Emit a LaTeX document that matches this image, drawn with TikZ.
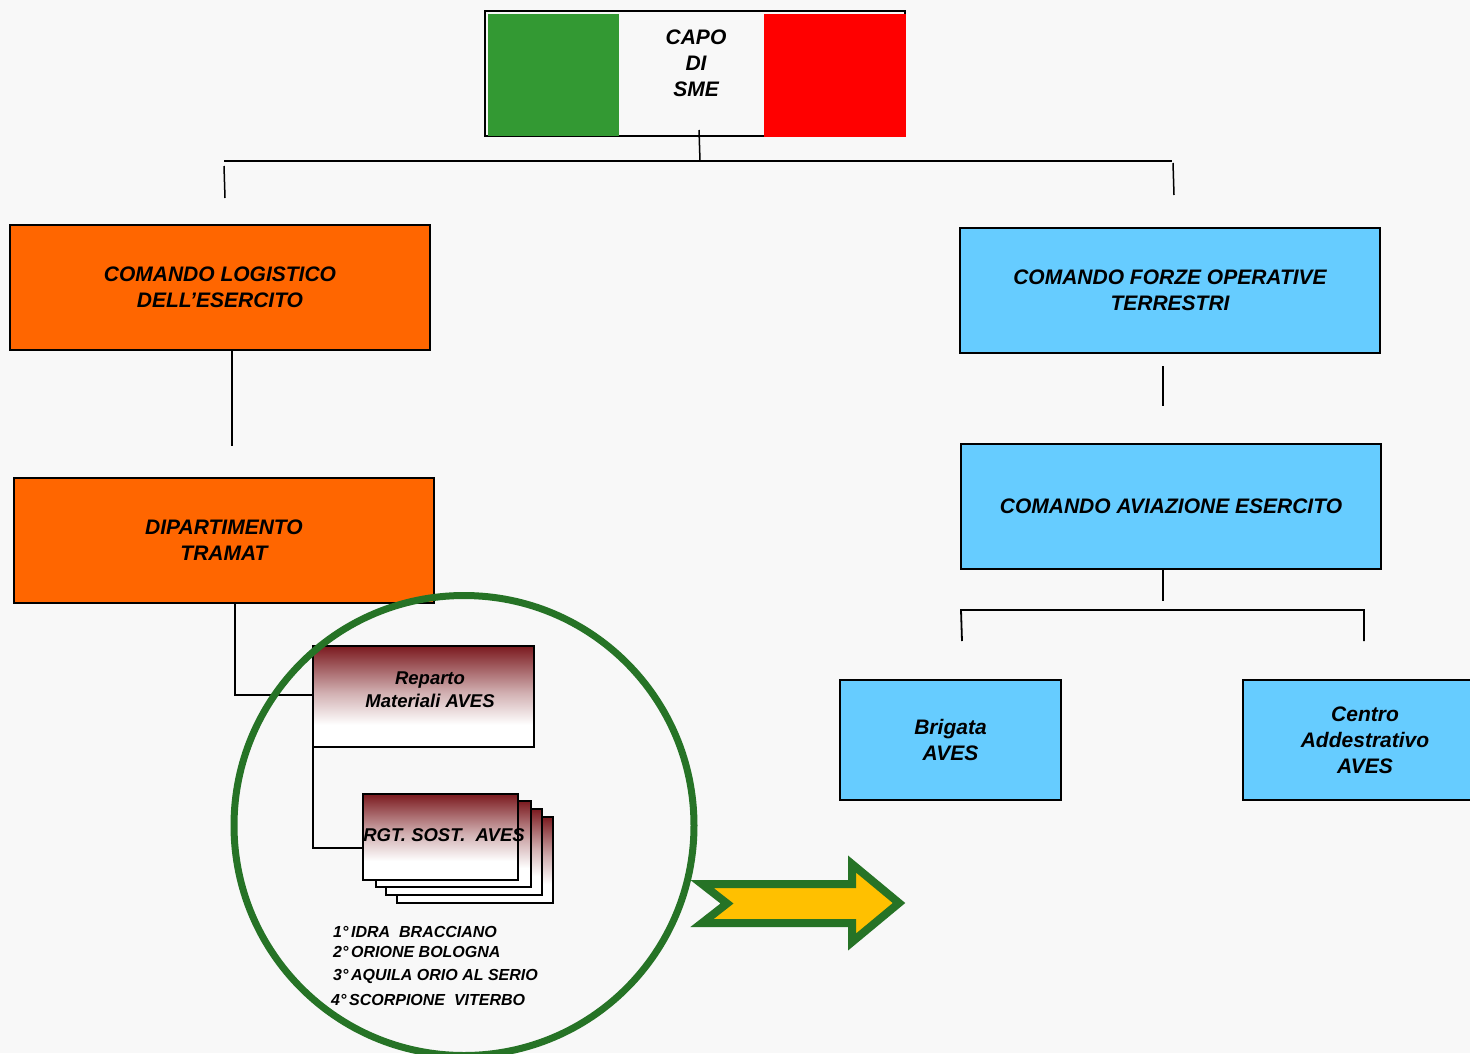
\documentclass[tikz,border=0pt]{standalone}
\usepackage{fontspec}
\setmainfont{Liberation Sans}
\definecolor{bg}{HTML}{F8F8F8}
\definecolor{orng}{HTML}{FF6600}
\definecolor{skyb}{HTML}{66CCFF}
\definecolor{flaggreen}{HTML}{339933}
\definecolor{flagred}{HTML}{FF0000}
\definecolor{ringgreen}{HTML}{267326}
\definecolor{arrowfill}{HTML}{FFC000}
\definecolor{drk}{HTML}{7B1A1F}
\pgfdeclareverticalshading{repshade}{100bp}{color(0bp)=(white); color(25bp)=(white); color(36bp)=(white); color(52bp)=(drk!35!white); color(75bp)=(drk); color(100bp)=(drk)}
\begin{document}
\begin{tikzpicture}[x=1pt,y=-1pt,
  box/.style={draw=black, line width=1.5pt, inner sep=0pt, outer sep=0pt, align=center,
    font=\fontsize{21}{26}\selectfont\bfseries\itshape},
  obox/.style={box, fill=orng, minimum width=420pt, minimum height=125pt},
  bbox/.style={box, fill=skyb, minimum width=420pt, minimum height=125pt},
  gbox/.style={draw=black, line width=1.5pt, inner sep=0pt, outer sep=0pt, shading=repshade},
  conn/.style={draw=black, line width=1.8pt},
  listtxt/.style={anchor=west, inner sep=0pt, font=\fontsize{16}{19}\selectfont\bfseries\itshape},
  smalltxt/.style={inner sep=0pt, align=center, font=\fontsize{18.5}{23}\selectfont\bfseries\itshape}
]
\useasboundingbox (0,0) rectangle (1470,1053);
\fill[bg] (0,0) rectangle (1470,1053);

% flag
\node[draw=black, line width=2pt, fill=bg, minimum width=420pt, minimum height=125pt, inner sep=0pt, outer sep=0pt] (capo) at (695,73.5) {};
\fill[flaggreen] (488,14) rectangle (619,136);
\fill[flagred] (764,14) rectangle (906,136.5);
\node[box, draw=none] (capotext) at (696,63) {\fontsize{21}{25}\selectfont CAPO\\DI\\SME};

% boxes
\node[obox] (clog) at (220,287.5) {COMANDO LOGISTICO\\DELL’ESERCITO};
\node[obox] (tramat) at (224,540.5) {DIPARTIMENTO\\TRAMAT};
\node[bbox] (cfot) at (1170,290.5) {COMANDO FORZE OPERATIVE\\TERRESTRI};
\node[bbox] (cae) at (1171,506.5) {COMANDO AVIAZIONE ESERCITO};
\node[bbox, minimum width=221pt, minimum height=120pt] (brig) at (950.5,740) {Brigata\\AVES};
\node[bbox, minimum width=244pt, minimum height=120pt] (centro) at (1365,740) {Centro\\Addestrativo\\AVES};

% gradient boxes
\node[gbox, minimum width=221pt, minimum height=101pt] (rep) at (423.5,696.5) {};
\node[smalltxt] (reptext) at (430,690) {Reparto\\Materiali AVES};
\node[gbox, minimum width=156pt, minimum height=86pt] (rgt4) at (475,860) {};
\node[gbox, minimum width=156pt, minimum height=86pt] (rgt3) at (464,852) {};
\node[gbox, minimum width=155pt, minimum height=86pt] (rgt2) at (453.5,844) {};
\node[gbox, minimum width=155pt, minimum height=86pt] (rgt1) at (440.5,837) {};
\node[smalltxt] (rgttext) at (444,835) {RGT. SOST.\ \ AVES};

% list
\node[listtxt] (l1) at (333,932) {1°\,IDRA\ \ BRACCIANO};
\node[listtxt] (l2) at (333,952) {2°\,ORIONE BOLOGNA};
\node[listtxt] (l3) at (333,976) {3°\,AQUILA ORIO AL SERIO};
\node[listtxt] (l4) at (331,1000) {4°\,SCORPIONE\ \ VITERBO};

% connector coordinates
\coordinate (c1) at (699,130);
\coordinate (c2) at (700,161);
\coordinate (hl) at (224,161);
\coordinate (hr) at (1172,161);
\coordinate (tl1) at (224,166);
\coordinate (tl2) at (225,198);
\coordinate (tr1) at (1173,163);
\coordinate (tr2) at (1174,195);
\coordinate (v1) at (232,446);
\coordinate (rr1) at (313,734);
\coordinate (rr2) at (363,848);
\coordinate (f1) at (1163,366);
\coordinate (f2) at (1163,406);
\coordinate (a2) at (1163,601);
\coordinate (bl) at (961,610);
\coordinate (br) at (1364,610);
\coordinate (bl2) at (962,641);
\coordinate (br2) at (1364,641);

\draw[conn, line width=1.5pt] (c1) -- (c2);
\draw[conn, line width=2.2pt] (hl) -- (hr);
\draw[conn, line width=1.5pt] (tl1) -- (tl2);
\draw[conn, line width=1.5pt] (tr1) -- (tr2);
\draw[conn] (clog.south -| v1) -- (v1);
\draw[conn] (tramat.south -| 235,0) |- (rep.west |- 0,695);
\draw[conn] (rr1) |- (rr2);
\draw[conn, line width=1.5pt] (f1) -- (f2);
\draw[conn, line width=1.5pt] (cae.south -| a2) -- (a2);
\draw[conn] (bl2) -- (bl) -- (br) -- (br2);

% ring and arrow
\node[draw=ringgreen, line width=7pt, circle, minimum size=460pt, inner sep=0pt] (ring) at (464,825.5) {};
\draw[draw=ringgreen, fill=arrowfill, line width=8pt, line join=miter, miter limit=10]
  (702,884) -- (852,884) -- (852,864) -- (899,903) -- (852,942) -- (852,923)
  -- (702,923) -- (727,903.5) -- cycle;
\end{tikzpicture}
\end{document}
